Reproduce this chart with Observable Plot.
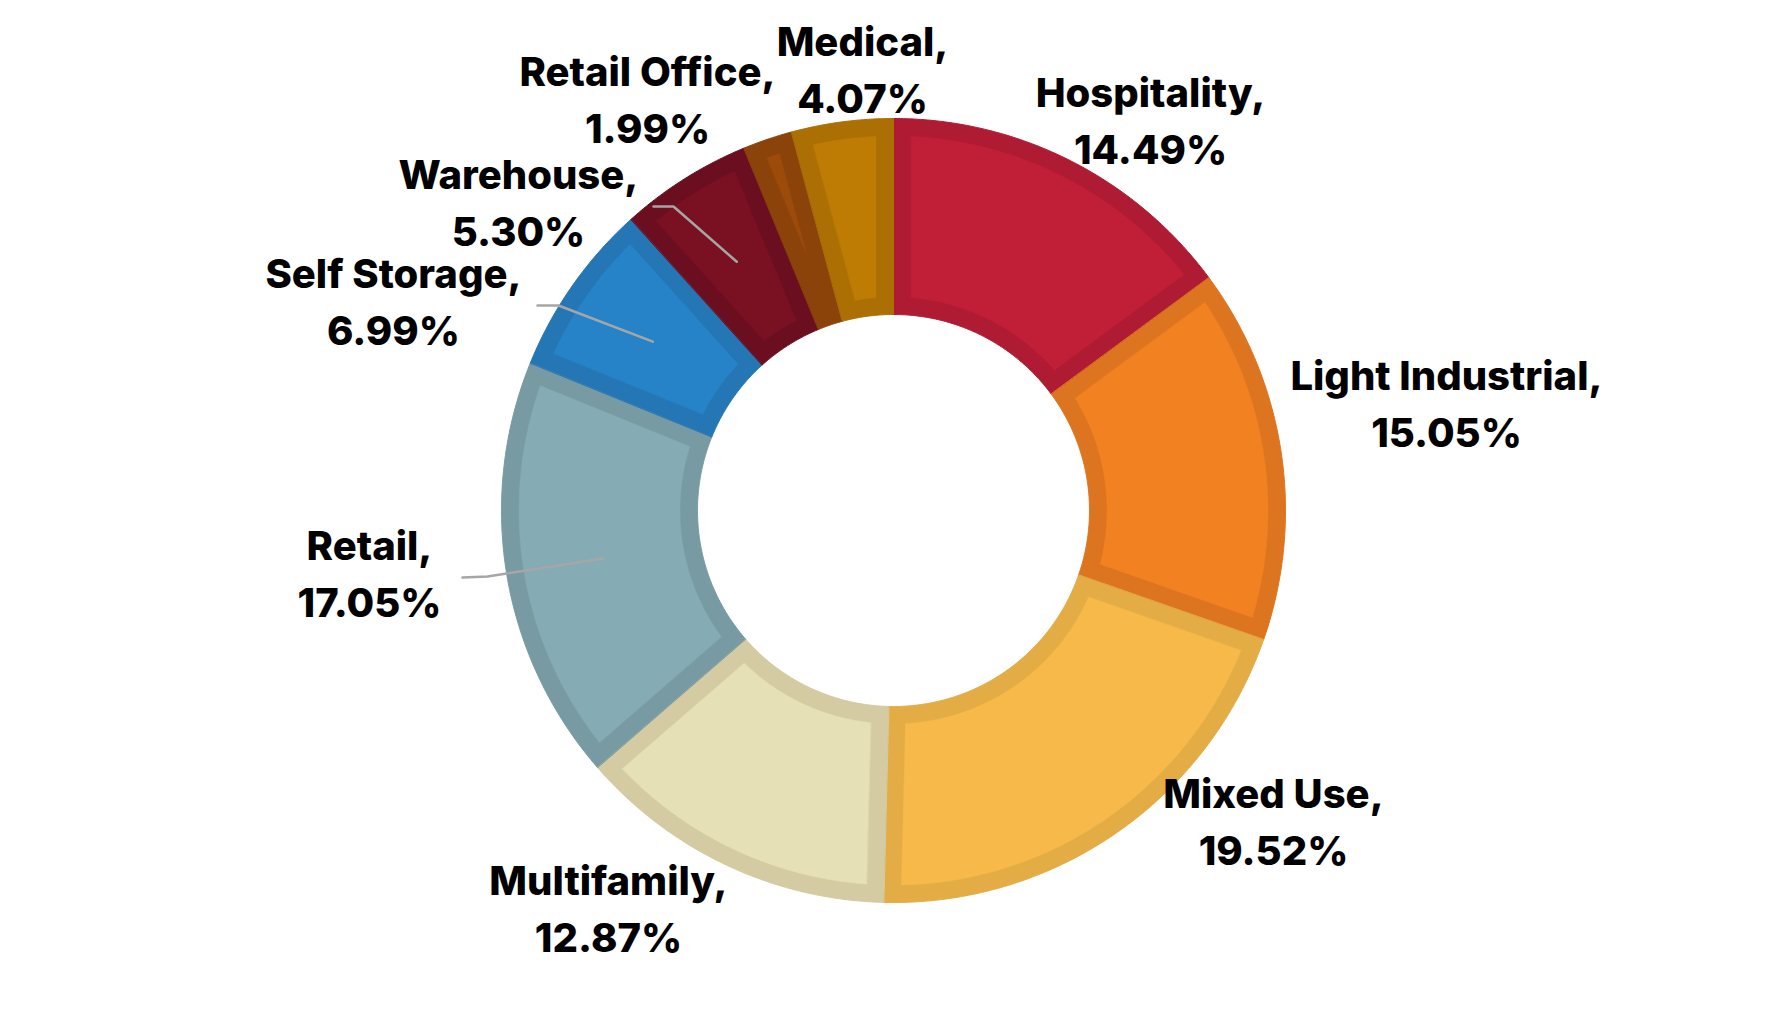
<!DOCTYPE html>
<html>
<head>
<meta charset="utf-8">
<script src="https://cdn.jsdelivr.net/npm/d3@7"></script>
<script src="https://cdn.jsdelivr.net/npm/@observablehq/plot@0.6"></script>
<style>
  html, body { margin: 0; padding: 0; background: #ffffff; }
  #chart svg { display: block; }
</style>
</head>
<body>
<div id="chart"></div>
<script>
// ---- data ----
const categories = ["Hospitality", "Light Industrial", "Mixed Use", "Multifamily", "Retail", "Self Storage", "Warehouse", "Retail Office", "Medical"];
const shares = [14.49, 15.05, 19.52, 12.87, 17.05, 6.99, 5.30, 1.99, 4.07];
const shareLabels = ["14.49%", "15.05%", "19.52%", "12.87%", "17.05%", "6.99%", "5.30%", "1.99%", "4.07%"];

// ---- styles ----
const fillColors   = ["#C01F37", "#F28121", "#F7BA4A", "#E6E0B7", "#85ABB5", "#2783C7", "#7A1123", "#9C4B0B", "#BE7C05"];
const borderColors = ["#AF1B32", "#DC7420", "#E4AC45", "#D4CBA3", "#789AA3", "#2476B4", "#6B0F20", "#8C430A", "#AB6F04"];

// ---- layout (pixels) ----
const W = 1787, H = 1022, CX = 893, CY = 510, R = 392, RIN = 196, BORDER = 17.5;
const FS = 40, LINE_GAP = 57, TEXT_SHIFT = 6;
const labelX =         [1150, 1446, 1273, 608, 369, 393, 518, 647, 862];
const labelBaseline =  [109,  392,  810,  897, 562, 290, 191, 88,  58];
const leaderCats = ["Warehouse", "Self Storage", "Retail"];
const leaderStart = [[653, 206], [537, 305], [462, 577]];
const leaderElbow = [[673, 206], [558, 305], [487, 576]];
const LEADER_R = 0.75;

// ---- geometry helpers (units of outer radius) ----
const toX = px => (px - CX) / R;
const toY = py => (CY - py) / R;
const pt = (rho, a) => ({x: rho * Math.sin(a), y: rho * Math.cos(a)});
function arcPts(rho, a0, a1) {
  const n = Math.max(2, Math.ceil(Math.abs(a1 - a0) / (Math.PI / 360)));
  return d3.range(n + 1).map(i => pt(rho, a0 + (a1 - a0) * i / n));
}

const arcs = d3.pie().sort(null)(shares);
const ri = RIN / R, wu = BORDER / R;

const outerRows = [], innerRows = [];
arcs.forEach((a, i) => {
  const a0 = a.startAngle, a1 = a.endAngle;
  const cat = categories[i];
  [...arcPts(1, a0, a1), ...arcPts(ri, a1, a0)].forEach(p =>
    outerRows.push({category: cat, x: p.x, y: p.y, color: borderColors[i]}));
  const Ro = 1 - wu, ri2 = ri + wu, half = (a1 - a0) / 2;
  const apexR = wu / Math.sin(half);
  if (apexR < Ro) {
    const pts = arcPts(Ro, a0 + Math.asin(wu / Ro), a1 - Math.asin(wu / Ro));
    if (apexR <= ri2) pts.push(...arcPts(ri2, a1 - Math.asin(wu / ri2), a0 + Math.asin(wu / ri2)));
    else pts.push(pt(apexR, a0 + half));
    pts.forEach(p => innerRows.push({category: cat, x: p.x, y: p.y, color: fillColors[i]}));
  }
});

const leaderRows = [];
leaderCats.forEach((cat, k) => {
  const i = categories.indexOf(cat);
  const mid = (arcs[i].startAngle + arcs[i].endAngle) / 2;
  const end = pt(LEADER_R, mid);
  leaderRows.push({category: cat, x: toX(leaderStart[k][0]), y: toY(leaderStart[k][1])});
  leaderRows.push({category: cat, x: toX(leaderElbow[k][0]), y: toY(leaderElbow[k][1])});
  leaderRows.push({category: cat, x: end.x, y: end.y});
});

const labels = categories.map((c, i) => ({
  text: c + ",\n" + shareLabels[i],
  x: toX(labelX[i]),
  y: toY((2 * labelBaseline[i] + LINE_GAP) / 2 - 0.36 * FS - TEXT_SHIFT)
}));

const chart = Plot.plot({
  width: W, height: H,
  margin: 0,
  x: {domain: [toX(0), toX(W)], axis: null},
  y: {domain: [toY(H), toY(0)], axis: null},
  color: {type: "identity"},
  marks: [
    Plot.line(outerRows, {x: "x", y: "y", z: "category", fill: "color", stroke: "color", strokeWidth: 1, curve: "linear-closed"}),
    Plot.line(innerRows, {x: "x", y: "y", z: "category", fill: "color", stroke: "color", strokeWidth: 0.5, curve: "linear-closed"}),
    Plot.line(leaderRows, {x: "x", y: "y", z: "category", stroke: "#A6A6A6", strokeWidth: 2.5}),
    Plot.text(labels, {x: "x", y: "y", text: "text", fontSize: FS, fontWeight: 800, fontFamily: "Inter, sans-serif",
      lineHeight: LINE_GAP / FS, textAnchor: "middle", lineAnchor: "middle", fill: "#000000"})
  ]
});
document.getElementById("chart").appendChild(chart);
</script>
</body>
</html>
